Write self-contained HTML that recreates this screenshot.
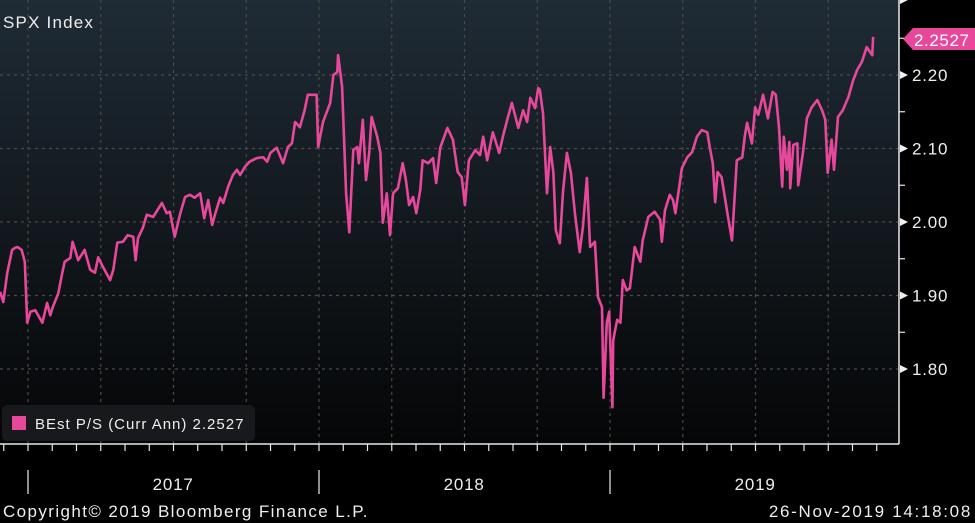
<!DOCTYPE html>
<html><head><meta charset="utf-8"><style>
html,body{margin:0;padding:0;background:#000;}
body{width:975px;height:523px;overflow:hidden;position:relative;font-family:"Liberation Sans",sans-serif;}
svg{position:absolute;left:0;top:0;}
</style></head><body>
<svg id="chart" width="975" height="523">
<defs><linearGradient id="bg" x1="0" y1="0" x2="0" y2="1">
<stop offset="0" stop-color="#1f2b35"/><stop offset="1" stop-color="#050607"/></linearGradient></defs>
<rect x="0" y="0" width="899" height="444" fill="url(#bg)"/>
<g id="grid"></g>
<g id="series"></g>
<line x1="899" y1="0" x2="899" y2="444" stroke="#e8e8e8" stroke-width="1.5"/>
<line x1="0" y1="444" x2="899" y2="444" stroke="#e8e8e8" stroke-width="1.5"/>
<g id="yaxis"></g>
<g id="xaxis"></g>
<text x="3" y="28" fill="#eeeeee" font-size="17" letter-spacing="1.2">SPX Index</text>
<g>
<rect x="2" y="405" width="253" height="36" rx="5" fill="#17191c"/>
<rect x="12" y="416" width="14" height="14" fill="#e8489c"/>
<text x="35" y="429" fill="#eeeeee" font-size="15" letter-spacing="1">BEst P/S (Curr Ann) 2.2527</text>
</g>
<g>
<polygon points="903,39 913,28 975,28 975,50 913,50" fill="#e8489c"/>
<text x="914" y="46" fill="#ffffff" font-size="17" letter-spacing="0.6">2.2527</text>
</g>
<text x="3" y="517" fill="#eeeeee" font-size="17" letter-spacing="1.4">Copyright© 2019 Bloomberg Finance L.P.</text>
<text x="972" y="517" fill="#eeeeee" font-size="17" letter-spacing="1.7" text-anchor="end">26-Nov-2019 14:18:08</text>
</svg>
<script>
const yTicks=[1.80,1.90,2.00,2.10,2.20];
const yTickLabels=["1.80","1.90","2.00","2.10","2.20"];
const years=["2017","2018","2019"];
const days=[-35,-31,-26,-20,-16,-13,-8,-4,-1,3,9,18,24,28,31,38,43,46,53,56,63,71,78,84,88,94,103,107,112,119,125,132,135,138,144,149,157,168,174,178,184,191,197,203,209,216,221,226,231,235,241,245,251,257,262,266,272,278,287,295,300,304,312,320,326,331,335,341,347,351,362,364,370,379,383,388,389,394,399,403,408,413,415,420,424,428,431,438,442,445,450,454,458,464,470,474,478,483,487,492,495,502,508,512,517,526,533,539,544,548,553,561,567,571,576,583,591,596,602,607,615,621,626,630,636,640,642,646,651,655,659,662,667,671,676,681,686,692,696,701,705,711,715,720,722,726,729,733,734,739,743,746,751,755,761,768,771,778,786,793,795,799,805,809,812,818,820,827,833,839,845,852,855,859,862,865,870,874,878,883,889,896,899,902,908,912,916,922,928,934,938,942,946,948,952,955,956,960,965,966,972,977,983,990,996,1000,1003,1008,1011,1016,1022,1029,1035,1040,1046,1052,1059,1060];
const values=[1.905,1.891,1.931,1.962,1.965,1.966,1.962,1.946,1.863,1.878,1.880,1.863,1.890,1.873,1.884,1.903,1.931,1.946,1.951,1.973,1.948,1.962,1.935,1.931,1.952,1.939,1.921,1.935,1.972,1.973,1.982,1.980,1.948,1.978,1.992,2.010,2.007,2.026,2.012,2.014,1.980,2.012,2.034,2.037,2.033,2.039,2.005,2.030,1.996,2.012,2.033,2.026,2.048,2.064,2.071,2.064,2.075,2.082,2.087,2.088,2.082,2.094,2.101,2.080,2.102,2.107,2.136,2.129,2.152,2.173,2.173,2.102,2.136,2.162,2.200,2.204,2.227,2.184,2.039,1.986,2.098,2.102,2.080,2.139,2.057,2.094,2.143,2.116,2.094,1.999,2.039,1.982,2.039,2.046,2.080,2.057,2.023,2.034,2.012,2.044,2.084,2.080,2.087,2.053,2.101,2.128,2.112,2.068,2.061,2.023,2.084,2.098,2.091,2.116,2.084,2.122,2.094,2.118,2.143,2.162,2.128,2.152,2.136,2.169,2.155,2.182,2.180,2.148,2.039,2.102,2.067,1.989,1.971,2.041,2.094,2.067,2.012,1.959,1.993,2.060,1.966,1.973,1.898,1.884,1.761,1.863,1.878,1.748,1.839,1.867,1.863,1.921,1.907,1.910,1.966,1.946,1.975,2.007,2.014,2.003,1.973,2.016,2.037,2.030,2.012,2.057,2.073,2.088,2.095,2.116,2.125,2.122,2.102,2.080,2.027,2.068,2.061,2.034,2.007,1.975,2.084,2.088,2.116,2.135,2.107,2.156,2.146,2.173,2.141,2.177,2.173,2.129,2.048,2.116,2.071,2.109,2.046,2.105,2.107,2.050,2.094,2.141,2.156,2.166,2.152,2.139,2.067,2.112,2.071,2.143,2.152,2.170,2.193,2.207,2.218,2.238,2.227,2.252];

const NS="http://www.w3.org/2000/svg";
const X0=28, PX_PER_DAY=291/365;
const xScale=d=>X0+d*PX_PER_DAY;
const yScale=v=>75+(2.2-v)*735;
function mk(tag,attrs,parent){const e=document.createElementNS(NS,tag);for(const k in attrs)e.setAttribute(k,attrs[k]);parent.appendChild(e);return e;}

const grid=document.getElementById('grid');
yTicks.forEach((t,i)=>{
  const gl=mk('line',{x1:0,x2:899,y1:yScale(t),y2:yScale(t),stroke:'#4d4943','stroke-width':1.2,'stroke-dasharray':'3,4'},grid);
  
  
});
for(let q=-1;q<=11;q++){
  const x=xScale(q*365/4);
  if(x<0||x>898)continue;
  const vl=mk('line',{x1:x,x2:x,y1:0,y2:444,stroke:'#4d4943','stroke-width':1.2,'stroke-dasharray':'3,4'},grid);
  
  
}

const pts=days.map((d,i)=>xScale(d).toFixed(1)+','+yScale(values[i]).toFixed(1)).join(' ');
const line=mk('polyline',{points:pts,fill:'none',stroke:'#e8489c','stroke-width':2.6,'stroke-linejoin':'round'},document.getElementById('series'));



const ya=document.getElementById('yaxis');
yTicks.forEach((t,i)=>{
  const y=yScale(t);
  const tri=mk('polygon',{points:`900,${y-4} 908,${y} 900,${y+4}`,fill:'#f0f0f0'},ya);
  
  
  const tx=mk('text',{x:912,y:y+6,fill:'#eeeeee','font-size':17,'letter-spacing':0.8},ya);
  tx.textContent=yTickLabels[i];
  
  
  const my=yScale(t+0.05);
  const mt=mk('line',{x1:899,x2:905,y1:my,y2:my,stroke:'#e8e8e8','stroke-width':1.2},ya);
  
  
});
const topTri=mk('polygon',{points:'900,-4 908,0 900,4',fill:'#f0f0f0'},ya);



const xa=document.getElementById('xaxis');
for(let m=-2;m<=35;m++){
  const x=xScale(m*365/12);
  if(x<0||x>898)continue;
  const t=mk('line',{x1:x,x2:x,y1:444,y2:451,stroke:'#e8e8e8','stroke-width':1.2},xa);
  
  
}
years.forEach((yr,i)=>{
  const xs=xScale(i*365);
  const sep=mk('line',{x1:xs,x2:xs,y1:470,y2:494,stroke:'#bdbdbd','stroke-width':1.5},xa);
  
  
  const lb=mk('text',{x:xScale(i*365+182),y:490,fill:'#eeeeee','font-size':17,'letter-spacing':0.8,'text-anchor':'middle'},xa);
  lb.textContent=yr;
  
  
});
</script>
</body></html>
